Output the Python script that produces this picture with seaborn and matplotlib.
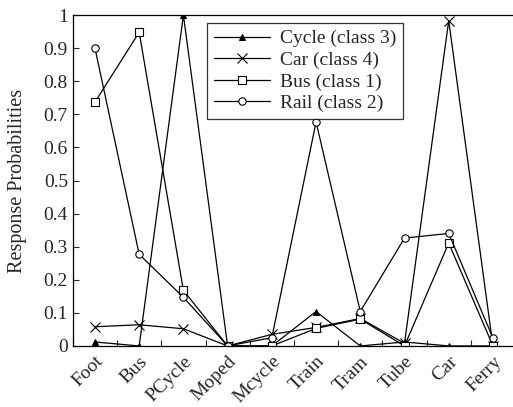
import matplotlib
matplotlib.use("Agg")
import matplotlib.pyplot as plt
import seaborn as sns
import pandas as pd
import numpy as np

modes = ["Foot", "Bus", "PCycle", "Moped", "Mcycle", "Train", "Tram", "Tube", "Car", "Ferry"]
cycle_c3 = [0.012, 0.0, 1.0, 0.0, 0.0, 0.104, 0.0, 0.012, 0.0, 0.0]
car_c4 = [0.058, 0.064, 0.052, 0.0, 0.035, 0.056, 0.083, 0.008, 0.983, 0.0]
bus_c1 = [0.737, 0.948, 0.168, 0.0, 0.0, 0.053, 0.081, 0.0, 0.311, 0.0]
rail_c2 = [0.900, 0.277, 0.147, 0.0, 0.025, 0.677, 0.104, 0.326, 0.340, 0.024]
series_names = ["Cycle (class 3)", "Car (class 4)", "Bus (class 1)", "Rail (class 2)"]
yticks = [0, 0.1, 0.2, 0.3, 0.4, 0.5, 0.6, 0.7, 0.8, 0.9, 1]
ytick_labels = ["0", "0.1", "0.2", "0.3", "0.4", "0.5", "0.6", "0.7", "0.8", "0.9", "1"]

sns.set_style("ticks")
plt.rcParams["font.family"] = ["Liberation Serif", "DejaVu Serif"]

fig = plt.figure(figsize=(5.13, 4.07), dpi=100)
ax = fig.add_axes([0.142, 0.150, 0.862, 0.813])

pos = np.arange(1, len(modes) + 1)
styles = [
    dict(marker="^", markersize=4.2, markerfacecolor="black", markeredgecolor="black"),
    dict(marker="x", markersize=7, markeredgewidth=0.8, markeredgecolor="black"),
    dict(marker="s", markersize=5.5, markerfacecolor="white", markeredgecolor="black", markeredgewidth=0.8),
    dict(marker="o", markersize=5.3, markerfacecolor="white", markeredgecolor="black", markeredgewidth=0.8),
]
for name, vals, st in zip(series_names, [cycle_c3, car_c4, bus_c1, rail_c2], styles):
    df = pd.DataFrame({"x": pos, "y": vals})
    sns.lineplot(data=df, x="x", y="y", ax=ax, color="black", linewidth=0.9,
                 label=name, **st)

fs = 14
ax.set_xlim(0.5, 10.5)
ax.set_ylim(0, 1)
ax.set_xticks(np.arange(0.5, 11, 1.0))
ax.set_xticklabels([])
ax.set_xticks(pos, minor=True)
ax.set_xticklabels(modes, minor=True, rotation=45, ha="right", rotation_mode="anchor", fontsize=fs)
ax.tick_params(axis="x", which="minor", length=0, pad=5)
ax.tick_params(axis="both", which="major", direction="in", length=4, width=0.8)
ax.set_yticks(yticks)
ax.set_yticklabels(ytick_labels, fontsize=fs)
ax.set_xlabel("")
ax.set_ylabel("Response Probabilities", fontsize=fs + 0.5, labelpad=12)
for sp in ax.spines.values():
    sp.set_visible(True)
    sp.set_linewidth(0.9)
    sp.set_color("black")

leg = ax.legend(loc="upper left", bbox_to_anchor=(0.303, 0.976), borderaxespad=0,
                fontsize=fs, frameon=True, fancybox=False, edgecolor="black",
                handlelength=2.9, borderpad=0.35, labelspacing=0.2, handletextpad=0.5)
leg.get_frame().set_linewidth(0.9)

fig.savefig("out.png", dpi=100)
